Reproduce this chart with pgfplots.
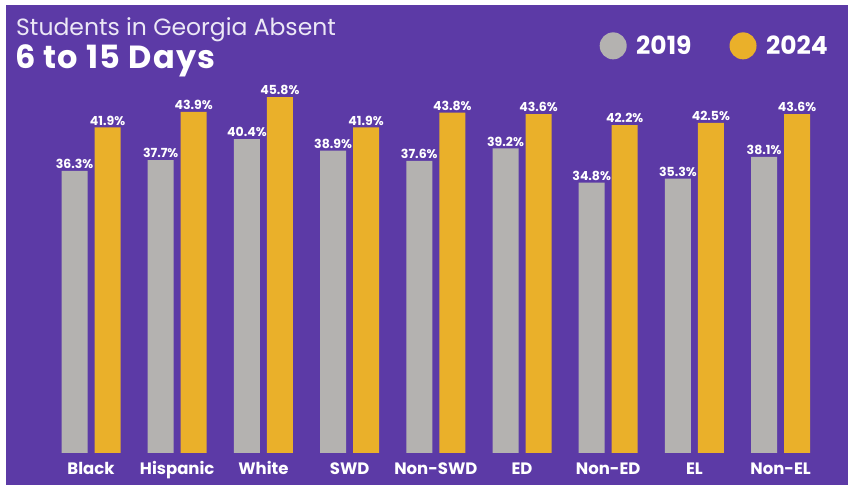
\documentclass[border=0pt]{standalone}
\usepackage{fontspec}
\setmainfont{Poppins}
\newfontfamily\titlefont[LetterSpace=4]{Poppins}
\usepackage{pgfplots}
\pgfplotsset{compat=1.18}
\definecolor{bgpurple}{HTML}{5C3AA6}
\definecolor{gray19}{HTML}{B4B2B0}
\definecolor{gold24}{HTML}{EAB02A}
\definecolor{titlecol}{HTML}{ECE8F6}
\begin{document}
\begin{tikzpicture}[x=1pt,y=1pt]
\fill[white] (0,0) rectangle (851,487);
\fill[bgpurple] (6,2) rectangle (848,482);
\node[anchor=base west,inner sep=0pt,text=titlecol,font=\fontsize{23.5}{26}\selectfont] at (16,451) {Students in Georgia Absent};
\node[anchor=base west,inner sep=0pt,text=white,font=\titlefont\fontsize{32}{36}\selectfont\bfseries] at (15,418) {6 to 15 Days};
\begin{axis}[
  at={(47.9pt,34pt)}, anchor=south west,
  scale only axis, width=775.8pt, height=388.5pt,
  ybar, bar width=26pt,
  xmin=-0.5, xmax=8.5, ymin=0, ymax=50,
  axis lines=none,
  xtick=data,
  clip=false,
  /pgf/number format/assume math mode=true,
  nodes near coords={\pgfmathprintnumber[fixed,precision=1,fixed zerofill]{\pgfplotspointmeta}\%},
  nodes near coords style={text=white,font=\fontsize{12.5}{14}\selectfont\bfseries,inner sep=2pt,anchor=south},
  legend style={draw=none,fill=none,at={(axis description cs:1.012,1.048)},anchor=east,
    text=white,font=\fontsize{25}{30}\selectfont\bfseries,legend columns=2,
    /tikz/every even column/.append style={column sep=36pt}},
  legend image code/.code={\fill[#1,draw=none] (0pt,0pt) circle (13.5pt); \path (21pt,0pt);},
]
\addplot[fill=gray19,draw=none,bar shift=-16.5pt] coordinates {(0,36.3) (1,37.7) (2,40.4) (3,38.9) (4,37.6) (5,39.2) (6,34.8) (7,35.3) (8,38.1)};
\addplot[fill=gold24,draw=none,bar shift=16.5pt] coordinates {(0,41.9) (1,43.9) (2,45.8) (3,41.9) (4,43.8) (5,43.6) (6,42.2) (7,42.5) (8,43.6)};
\legend{2019,2024}
\foreach \lab [count=\i from 0] in {Black,Hispanic,White,SWD,Non-SWD,ED,Non-ED,EL,Non-EL}{
  \edef\tmp{\noexpand\node[text=white,font=\noexpand\fontsize{16.5}{19}\noexpand\selectfont\noexpand\bfseries,anchor=base] at (axis cs:\i,-2.83) {\lab};}\tmp
}
\end{axis}
\end{tikzpicture}
\end{document}
